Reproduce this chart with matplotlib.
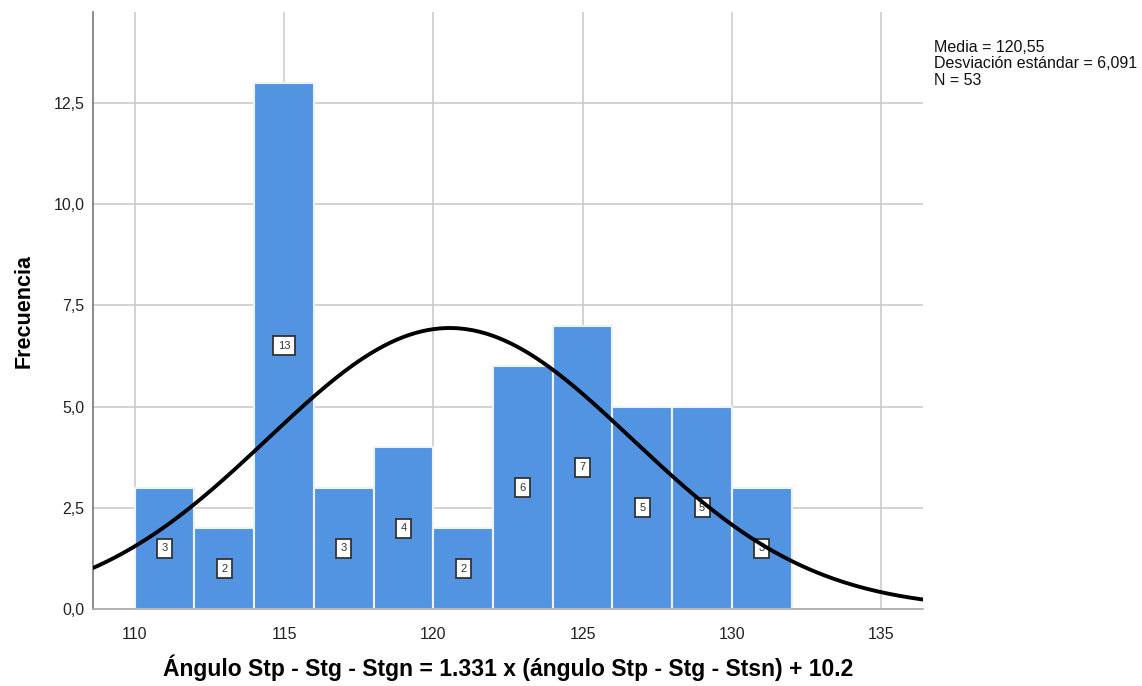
import matplotlib.pyplot as plt
from matplotlib.ticker import FuncFormatter
import numpy as np

plt.rcParams['font.family'] = ['Liberation Sans', 'DejaVu Sans']

# Histogram data: bins of width 2 starting at 110
bin_edges = [110, 112, 114, 116, 118, 120, 122, 124, 126, 128, 130, 132]
counts = [3, 2, 13, 3, 4, 2, 6, 7, 5, 5, 3]
mean_val = 120.55
std_val = 6.091
n_total = 53

BAR_COLOR = '#5294E2'
GRID_COLOR = '#C8C8C8'

fig = plt.figure(figsize=(11.42, 6.86), dpi=100)
ax = fig.add_axes([0.0814, 0.1122, 0.7268, 0.8703])

lefts = np.array(bin_edges[:-1])
widths = np.diff(bin_edges)
ax.bar(lefts, counts, width=widths, align='edge', color=BAR_COLOR,
       edgecolor='#EEF3FA', linewidth=1.5, zorder=2)

# value labels in the middle of each bar
for x0, w, c in zip(lefts, widths, counts):
    ax.text(x0 + w / 2, c / 2, str(c), ha='center', va='center', fontsize=8,
            color='#333333', zorder=3,
            bbox=dict(boxstyle='square,pad=0.4', facecolor='white',
                      edgecolor='#333333', linewidth=1.3))

# normal curve scaled to the histogram
xs = np.linspace(108.5, 136.5, 400)
bw = widths[0]
ys = n_total * bw / (std_val * np.sqrt(2 * np.pi)) * np.exp(-0.5 * ((xs - mean_val) / std_val) ** 2)
ax.plot(xs, ys, color='black', linewidth=2.8, zorder=4)

ax.set_xlim(108.6, 136.4)
ax.set_ylim(0, 14.75)
ax.set_xticks([110, 115, 120, 125, 130, 135])
ax.set_yticks([0, 2.5, 5, 7.5, 10, 12.5])
ax.yaxis.set_major_formatter(FuncFormatter(lambda v, p: f'{v:.1f}'.replace('.', ',')))
ax.tick_params(axis='both', length=0, labelsize=11.5, colors='#222222')
ax.tick_params(axis='x', pad=13)
ax.tick_params(axis='y', pad=6)

ax.grid(True, color=GRID_COLOR, linewidth=1.1, zorder=0)
ax.set_axisbelow(True)
for side in ['top', 'right']:
    ax.spines[side].set_visible(False)
ax.spines['left'].set_color('#777777')
ax.spines['left'].set_linewidth(1.2)
ax.spines['bottom'].set_color('#AAAAAA')
ax.spines['bottom'].set_linewidth(1.2)

ax.set_ylabel('Frecuencia', fontsize=15.5, fontweight='bold', labelpad=14)
ax.set_xlabel('Ángulo Stp - Stg - Stgn = 1.331 x (ángulo Stp - Stg - Stsn) + 10.2',
              fontsize=16.5, fontweight='bold', labelpad=9)

fig.text(934 / 1142, 1 - 40 / 686,
         'Media = 120,55\nDesviación estándar = 6,091\nN = 53',
         ha='left', va='top', fontsize=11.5, linespacing=1.12, color='#111111')

fig.savefig('out.png', dpi=100, facecolor='white')
